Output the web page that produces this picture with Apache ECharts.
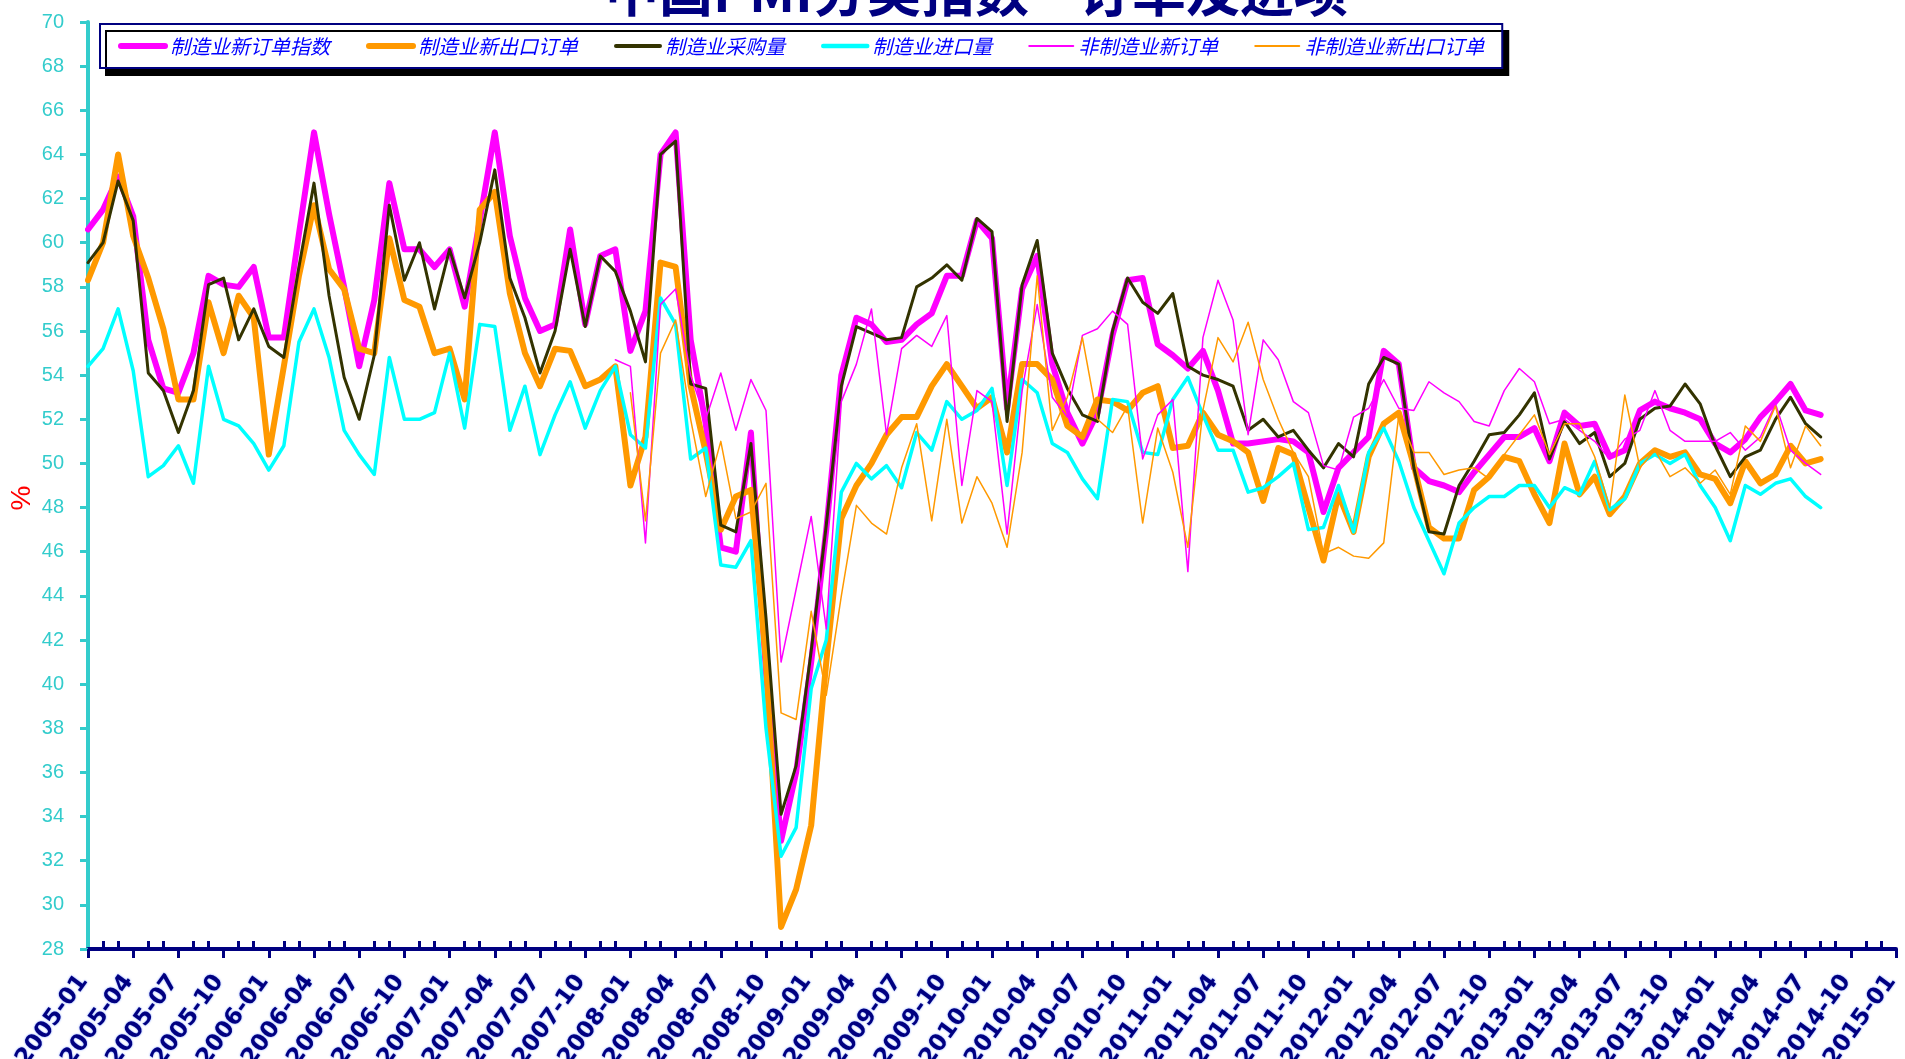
<!DOCTYPE html>
<html>
<head>
<meta charset="utf-8">
<script src="https://cdn.jsdelivr.net/npm/echarts@6/dist/echarts.min.js"></script>
<style>
html,body{margin:0;padding:0;background:#fff;}
#chart{width:1905px;height:1059px;}
</style>
</head>
<body>
<div id="chart"></div>
<script>
// categories: 2005-01 .. 2015-01
const categories = [];
for (let y = 2005; y <= 2015; y++) {
  for (let m = 1; m <= 12; m++) {
    if (y === 2015 && m > 1) break;
    categories.push(y + '-' + (m < 10 ? '0' + m : '' + m));
  }
}
const yTicks = {min: 28, max: 70, interval: 2};

const seriesNames = ['制造业新订单指数','制造业新出口订单','制造业采购量','制造业进口量','非制造业新订单','非制造业新出口订单'];

const mfgNewOrders = [60.6,61.5,63.0,61.2,55.6,53.4,53.2,55.0,58.5,58.1,58.0,58.9,55.7,55.7,60.4,65.0,61.3,58.0,54.4,57.4,62.7,59.7,59.7,58.9,59.7,57.1,61.0,65.0,60.3,57.5,56.0,56.3,60.6,56.3,59.4,59.7,55.1,56.9,
 64.0,65.0,55.6,51.8,46.2,46.0,51.4,40.5,32.9,36.0,41.0,47.0,54.0,56.6,56.3,55.5,55.6,56.3,56.8,58.5,58.5,61.0,60.2,52.5,57.9,59.4,54.5,52.3,50.9,52.3,55.8,58.3,58.4,55.4,54.9,54.3,55.1,53.3,50.9,50.9,51.0,51.1,51.0,50.5,47.8,49.8,50.5,51.2,55.1,54.5,49.8,49.2,49.0,48.7,49.6,50.4,51.2,51.2,51.6,50.1,52.3,51.7,51.8,50.3,50.6,52.4,52.8,52.5,52.3,52.0,
 50.9,50.5,51.1,52.1,52.8,53.6,52.4,52.2];

const mfgExportOrders = [58.3,60.0,64.0,60.3,58.4,56.1,52.9,52.9,57.3,55.0,57.6,56.6,50.4,54.4,58.5,61.7,58.8,57.9,55.2,55.0,60.2,57.4,57.1,55.0,55.2,52.9,61.5,62.3,57.7,55.0,53.5,55.2,55.1,53.5,53.8,54.4,49.0,51.2,
 59.1,58.9,53.5,50.5,47.0,48.5,48.8,41.0,29.0,30.7,33.6,41.0,47.5,49.0,50.0,51.3,52.1,52.1,53.5,54.5,53.5,52.5,53.0,50.5,54.5,54.5,53.8,51.7,51.2,52.9,52.8,52.4,53.2,53.5,50.7,50.8,52.3,51.3,51.0,50.5,48.3,50.7,50.4,48.0,45.6,48.6,46.9,50.3,51.8,52.3,49.9,47.1,46.6,46.6,48.8,49.4,50.3,50.1,48.6,47.3,50.9,48.6,49.4,47.7,48.5,50.0,50.6,50.3,50.5,49.5,
 49.3,48.2,50.1,49.1,49.5,50.8,50.0,50.2];

const mfgPurchases = [59.1,60.0,62.8,61.0,54.1,53.3,51.4,53.3,58.1,58.4,55.6,57.0,55.3,54.8,58.9,62.7,57.6,53.9,52.0,54.9,61.7,58.3,60.0,57.0,59.7,57.5,60.0,63.3,58.4,56.6,54.1,56.0,59.7,56.2,59.4,58.7,56.9,54.6,
 64.0,64.6,53.6,53.4,47.2,46.9,50.9,43.0,34.1,36.3,41.5,47.2,53.5,56.2,55.9,55.6,55.7,58.0,58.4,59.0,58.3,61.1,60.5,51.9,58.1,60.1,55.0,53.4,52.2,51.9,56.0,58.4,57.3,56.8,57.7,54.4,54.0,53.8,53.5,51.5,52.0,51.2,51.5,50.6,49.8,50.9,50.3,53.6,54.8,54.5,49.8,46.9,46.8,49.0,50.1,51.3,51.4,52.2,53.2,50.2,51.9,50.9,51.4,49.4,50.0,52.0,52.5,52.6,53.6,52.7,
 50.8,49.4,50.3,50.6,52.0,53.0,51.8,51.2];

const mfgImports = [54.4,55.2,57.0,54.2,49.4,49.9,50.8,49.1,54.4,52.0,51.7,50.9,49.7,50.8,55.5,57.0,54.8,51.5,50.4,49.5,54.8,52.0,52.0,52.3,55.0,51.6,56.3,56.2,51.5,53.5,50.4,52.2,53.7,51.6,53.3,54.4,51.3,50.7,
 57.5,56.3,50.2,50.7,45.4,45.3,46.5,38.0,32.2,33.5,39.8,42.0,48.7,50.0,49.3,49.9,48.9,51.4,50.6,52.8,52.0,52.4,53.4,49.0,53.8,53.2,50.9,50.5,49.3,48.4,52.9,52.8,50.5,50.4,52.9,53.9,52.2,50.6,50.6,48.7,48.9,49.4,50.0,47.0,47.1,49.0,46.9,50.5,51.6,50.1,48.0,46.5,45.0,47.3,48.0,48.5,48.5,49.0,49.0,48.0,48.9,48.6,50.1,47.9,48.4,50.0,50.4,50.0,50.4,49.0,
 48.0,46.5,49.0,48.6,49.1,49.3,48.5,48.0];

const nonMfgNewOrders = [null,null,null,null,null,null,null,null,null,null,null,null,null,null,null,null,null,null,null,null,null,null,null,null,null,null,null,null,null,null,null,null,null,null,null,
 54.7,54.4,46.4,57.2,57.9,54.0,52.0,54.1,51.5,53.8,52.4,41.0,44.3,47.6,42.5,52.8,54.5,57.0,51.3,55.2,55.8,55.3,56.7,49.0,53.3,52.8,46.8,53.3,57.2,53.0,52.1,55.8,56.1,56.9,56.3,50.2,52.2,52.9,45.1,55.7,58.3,56.5,51.3,55.6,54.7,52.8,52.3,49.9,49.7,52.1,52.5,53.8,52.5,52.4,53.7,53.2,52.8,51.9,51.7,53.3,54.3,53.7,51.8,52.0,51.5,51.0,50.2,51.1,51.5,53.3,51.5,51.0,51.0,
 51.0,51.4,50.6,51.2,52.7,50.6,50.0,49.5];

const nonMfgExportOrders = [null,null,null,null,null,null,null,null,null,null,null,null,null,null,null,null,null,null,null,null,null,null,null,null,null,null,null,null,null,null,null,null,null,null,null,null,
 53.2,47.4,55.0,56.5,52.0,48.5,51.0,47.5,47.8,49.1,38.7,38.4,43.3,39.5,44.0,48.1,47.3,46.8,49.8,51.8,47.4,52.0,47.3,49.4,48.2,46.2,50.5,58.5,51.5,53.0,55.7,52.0,51.4,52.6,47.3,51.6,49.6,46.2,52.4,55.7,54.6,56.4,53.8,52.0,50.5,49.4,45.9,46.2,45.8,45.7,46.4,52.2,50.5,50.5,49.5,49.7,49.8,49.3,50.4,51.3,52.2,50.4,51.8,51.8,50.3,48.0,53.1,49.8,50.6,49.4,49.8,49.1,
 49.7,48.6,51.7,51.0,52.6,49.8,51.7,50.8];

const seriesData = [mfgNewOrders, mfgExportOrders, mfgPurchases, mfgImports, nonMfgNewOrders, nonMfgExportOrders];
const seriesColors = ['#FF00FF','#FF9900','#333300','#00FFFF','#FF00FF','#FF9900'];
const seriesWidths = [6,6,3,3.5,1.5,1.5];
const legendWidths = [6,6,4,4.5,2,2];

const chart = echarts.init(document.getElementById('chart'));
const option = {
  animation: false,
  backgroundColor: '#ffffff',
  title: {
    text: '中国PMI分类指数—订单及进项',
    left: 600,
    top: -41,
    textStyle: {color: '#000080', fontSize: 54, fontWeight: 'bold', fontFamily: 'Noto Sans CJK SC'}
  },
  graphic: [{
    type: 'text',
    x: 22, y: 498,
    rotation: Math.PI / 2,
    style: {text: '%', fill: '#FF0000', font: '28px "Liberation Sans"', align: 'center', verticalAlign: 'middle'}
  }],
  legend: {
    data: seriesNames.map(function (n, k) {
      return {name: n, lineStyle: {width: legendWidths[k], cap: 'round'}};
    }),
    left: 100,
    top: 24,
    padding: [12, 18, 12, 18],
    itemGap: 36,
    itemWidth: 44,
    itemHeight: 14,
    itemStyle: {opacity: 0},
    backgroundColor: '#ffffff',
    borderColor: '#000080',
    borderWidth: 2,
    shadowColor: '#000000',
    shadowOffsetX: 6,
    shadowOffsetY: 7,
    shadowBlur: 0,
    textStyle: {color: '#0000FF', fontSize: 20, fontStyle: 'italic', fontFamily: 'Noto Sans CJK SC'}
  },
  grid: {left: 88, right: 9, top: 22, bottom: 110, containLabel: false, outerBoundsMode: 'none'},
  xAxis: [{
    type: 'category',
    data: categories,
    boundaryGap: false,
    position: 'bottom',
    axisLine: {lineStyle: {color: '#000080', width: 4}},
    axisTick: {show: true, interval: 2, length: 9, lineStyle: {color: '#000080', width: 3}},
    axisLabel: {interval: 2, rotate: 54, margin: 22, padding: [0, 8, 0, 0], color: '#000080', fontSize: 23, fontWeight: 'bold',
      fontFamily: 'DejaVu Sans', textShadowColor: 'rgba(40,90,255,0.7)', textShadowBlur: 2},
    splitLine: {show: false}
  }, {
    type: 'category',
    data: categories,
    boundaryGap: false,
    position: 'bottom',
    offset: 0,
    axisLine: {show: false},
    axisTick: {show: true, inside: true, length: 8, interval: function (idx) { return idx % 3 !== 0; },
      lineStyle: {color: '#000080', width: 3}},
    axisLabel: {show: false},
    splitLine: {show: false}
  }],
  yAxis: {
    type: 'value',
    min: yTicks.min, max: yTicks.max, interval: yTicks.interval,
    axisLine: {show: true, lineStyle: {color: '#33CCCC', width: 4}},
    axisTick: {show: true, length: 8, lineStyle: {color: '#33CCCC', width: 3}},
    axisLabel: {color: '#33CCCC', fontSize: 20, margin: 24, fontFamily: 'Liberation Sans'},
    splitLine: {show: false}
  },
  series: seriesNames.map(function (name, k) {
    return {
      name: name,
      type: 'line',
      xAxisIndex: 0,
      data: seriesData[k],
      symbol: 'none',
      connectNulls: false,
      lineStyle: {color: seriesColors[k], width: seriesWidths[k], join: 'round', cap: 'round'},
      itemStyle: {color: seriesColors[k]},
      z: 2 + k
    };
  })
};
chart.setOption(option);
</script>
</body>
</html>
